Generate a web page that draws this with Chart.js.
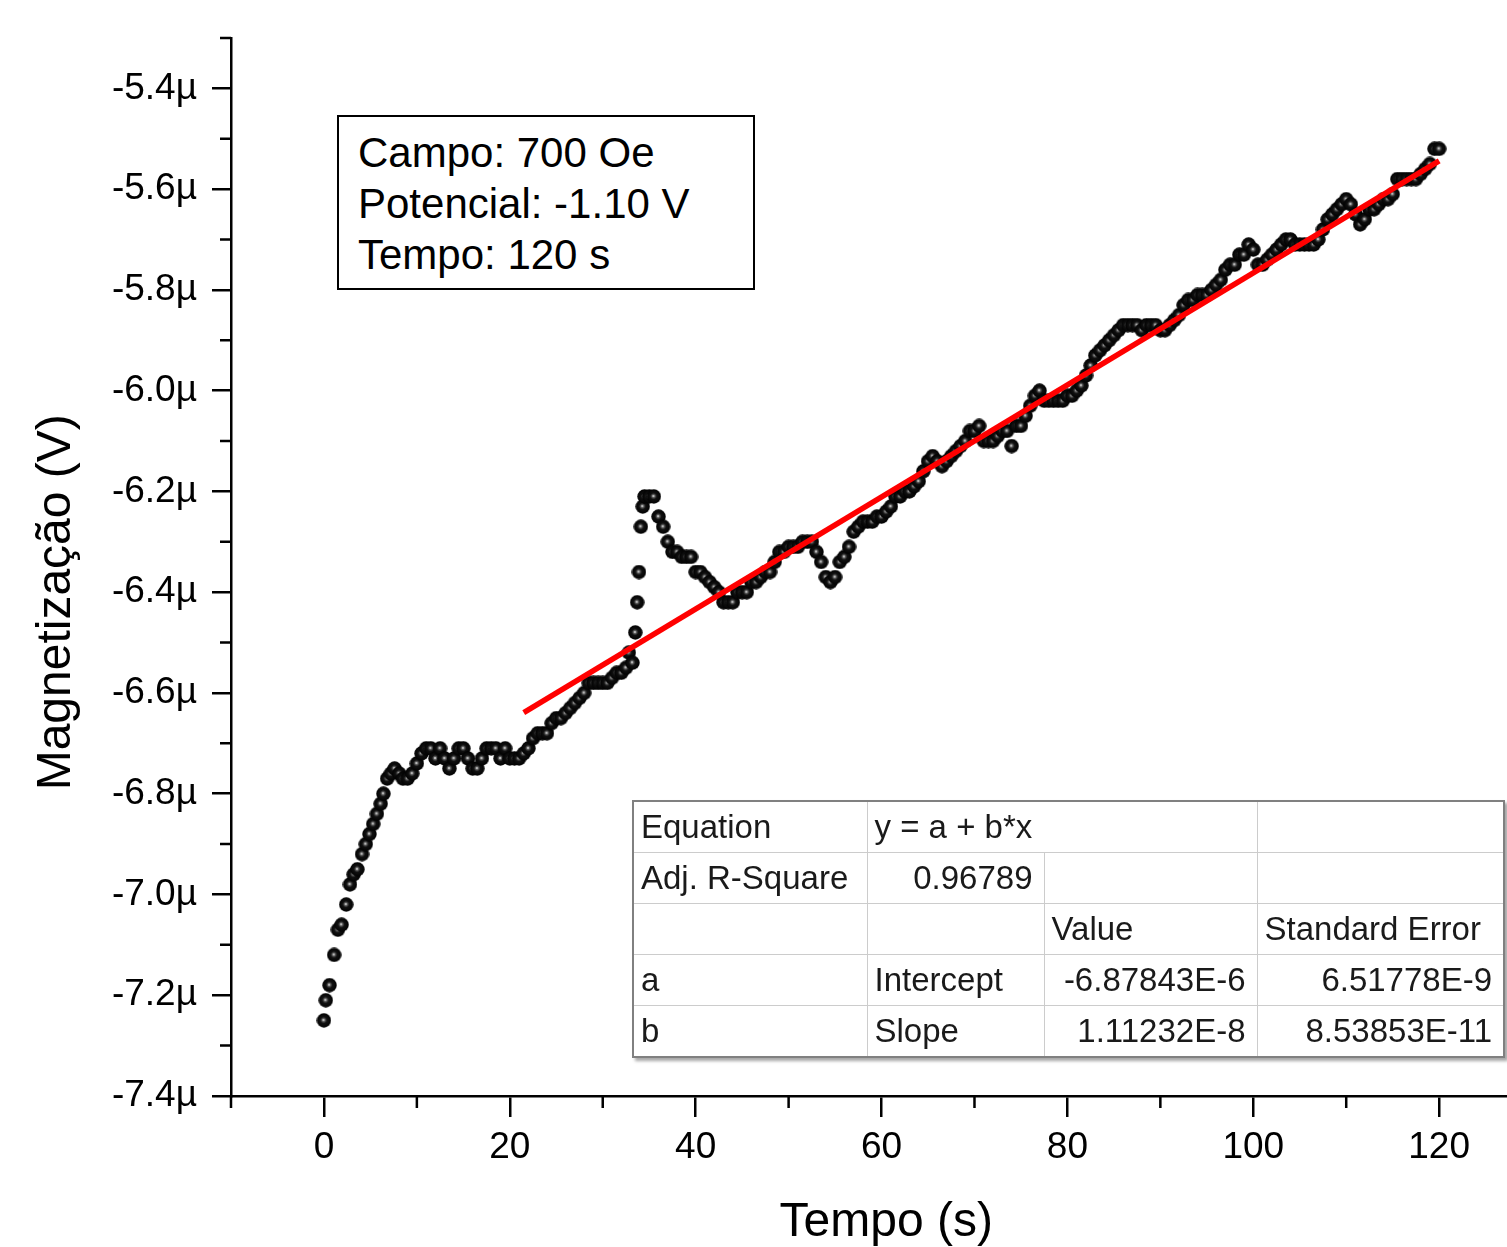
<!DOCTYPE html>
<html>
<head>
<meta charset="utf-8">
<script src="https://cdn.jsdelivr.net/npm/chart.js@4.4.1/dist/chart.umd.min.js"></script>
<style>
  body { margin: 0; background: #fff; }
  #wrap { position: relative; width: 1507px; height: 1247px; overflow: hidden; background: #fff; }
  #info {
    position: absolute; left: 337px; top: 115px; width: 395px; height: 161px;
    border: 2px solid #000; background: #fff; padding: 10px 0 0 19px;
    font: 42px/51px 'Liberation Sans', Arial, sans-serif; color: #000;
  }
  #fit {
    position: absolute; left: 632px; top: 800px; width: 871px;
    border-collapse: collapse; table-layout: fixed; background: #fff;
    font: 33px 'Liberation Sans', Arial, sans-serif; color: #1a1a1a;
    border: 2px solid #808080; box-shadow: 3px 3px 3px rgba(0,0,0,0.35);
  }
  #fit td { border: 1px solid #cccccc; height: 50px; padding: 0 7px; white-space: nowrap; overflow: hidden; }
  #fit td.r { text-align: right; padding-right: 11px; }
</style>
</head>
<body>
<div id="wrap">
  <canvas id="grafico" width="1507" height="1247"></canvas>
  <div id="info">Campo: 700 Oe<br>Potencial: -1.10 V<br>Tempo: 120 s</div>
  <table id="fit">
    <colgroup><col style="width:234px"><col style="width:177px"><col style="width:213px"><col style="width:247px"></colgroup>
    <tr><td>Equation</td><td colspan="2">y = a + b*x</td><td></td></tr>
    <tr><td>Adj. R-Square</td><td class="r">0.96789</td><td></td><td></td></tr>
    <tr><td></td><td></td><td>Value</td><td>Standard Error</td></tr>
    <tr><td>a</td><td>Intercept</td><td class="r">-6.87843E-6</td><td class="r">6.51778E-9</td></tr>
    <tr><td>b</td><td>Slope</td><td class="r">1.11232E-8</td><td class="r">8.53853E-11</td></tr>
  </table>
</div>
<script>
// tempo em s, magnetizacao em µV
const tempo = [
  0, 0.2, 0.6, 1.1, 1.5, 1.9, 2.4, 2.8, 3.2, 3.6, 4.1, 4.5, 4.9, 5.3, 5.7, 6.1, 6.4, 6.8, 7.2, 7.6, 8.1, 8.5, 9, 9.5,
  10, 10.5, 11, 11.5, 12, 12.5, 13, 13.5, 14, 14.5,
  15, 15.5, 16, 16.5, 17, 17.5, 18, 18.5, 19, 19.5,
  20, 20.5, 21, 21.5, 22, 22.5, 23, 23.5, 24, 24.5,
  25, 25.5, 26, 26.5, 27, 27.5, 28, 28.5, 29, 29.5,
  30, 30.5, 31, 31.5, 32, 32.5,
  32.8, 33.2, 33.5, 33.7, 33.9, 34.1, 34.3, 34.5,
  35, 35.5, 36, 36.5, 37, 37.5, 38, 38.5, 39, 39.5,
  40, 40.5, 41, 41.5, 42, 42.5, 43, 43.5, 44, 44.5,
  45, 45.5, 46, 46.5, 47, 47.5, 48, 48.5, 49, 49.5,
  50, 50.5, 51, 51.5, 52, 52.5, 53, 53.5, 54, 54.5,
  55, 55.5, 56, 56.5, 57, 57.5, 58, 58.5, 59, 59.5,
  60, 60.5, 61, 61.5, 62, 62.5, 63, 63.5, 64, 64.5,
  65, 65.5, 66, 66.5, 67, 67.5, 68, 68.5, 69, 69.5,
  70, 70.5, 71, 71.5, 72, 72.5, 73, 73.5, 74, 74.5,
  75, 75.5, 76, 76.5, 77, 77.5, 78, 78.5, 79, 79.5,
  80, 80.5, 81, 81.5, 82, 82.5, 83, 83.5, 84, 84.5,
  85, 85.5, 86, 86.5, 87, 87.5, 88, 88.5, 89, 89.5,
  90, 90.5, 91, 91.5, 92, 92.5, 93, 93.5, 94, 94.5,
  95, 95.5, 96, 96.5, 97, 97.5, 98, 98.5, 99, 99.5,
  100, 100.5, 101, 101.5, 102, 102.5, 103, 103.5, 104, 104.5,
  105, 105.5, 106, 106.5, 107, 107.5, 108, 108.5, 109, 109.5,
  110, 110.5, 111, 111.5, 112, 112.5, 113, 113.5, 114, 114.5,
  115, 115.5, 116, 116.5, 117, 117.5, 118, 118.5, 119, 119.5,
  120
];
const magnetizacao = [
  -7.25, -7.21, -7.18, -7.12, -7.07, -7.06, -7.02, -6.98, -6.96, -6.95, -6.92, -6.90, -6.88, -6.86, -6.84, -6.82, -6.80, -6.77, -6.76, -6.75, -6.76, -6.77, -6.77, -6.76,
  -6.74, -6.72, -6.71, -6.71, -6.73, -6.71, -6.73, -6.75, -6.73, -6.71,
  -6.71, -6.73, -6.75, -6.75, -6.73, -6.71, -6.71, -6.71, -6.73, -6.71,
  -6.73, -6.73, -6.73, -6.72, -6.71, -6.69, -6.68, -6.68, -6.68, -6.66,
  -6.65, -6.65, -6.64, -6.63, -6.62, -6.61, -6.60, -6.58, -6.58, -6.58,
  -6.58, -6.58, -6.57, -6.56, -6.56, -6.55,
  -6.52, -6.54, -6.48, -6.42, -6.36, -6.27, -6.23, -6.21,
  -6.21, -6.21, -6.25, -6.27, -6.30, -6.32, -6.32, -6.33, -6.33, -6.33,
  -6.36, -6.36, -6.37, -6.38, -6.39, -6.40, -6.42, -6.42, -6.42, -6.40,
  -6.40, -6.40, -6.38, -6.38, -6.37, -6.36, -6.36, -6.34, -6.32, -6.32,
  -6.31, -6.31, -6.31, -6.30, -6.30, -6.30, -6.32, -6.34, -6.37, -6.38,
  -6.37, -6.34, -6.33, -6.31, -6.28, -6.27, -6.26, -6.26, -6.26, -6.25,
  -6.25, -6.24, -6.23, -6.21, -6.21, -6.20, -6.20, -6.19, -6.18, -6.16,
  -6.14, -6.13, -6.14, -6.15, -6.14, -6.13, -6.12, -6.11, -6.10, -6.08,
  -6.08, -6.07, -6.10, -6.10, -6.10, -6.09, -6.08, -6.08, -6.11, -6.07,
  -6.07, -6.05, -6.03, -6.01, -6.00, -6.02, -6.02, -6.02, -6.02, -6.02,
  -6.01, -6.01, -6.00, -5.99, -5.97, -5.95, -5.93, -5.92, -5.91, -5.90,
  -5.89, -5.88, -5.87, -5.87, -5.87, -5.87, -5.88, -5.87, -5.87, -5.87,
  -5.88, -5.88, -5.87, -5.86, -5.85, -5.83, -5.82, -5.82, -5.81, -5.81,
  -5.81, -5.80, -5.79, -5.78, -5.76, -5.75, -5.75, -5.73, -5.73, -5.71,
  -5.72, -5.75, -5.75, -5.74, -5.73, -5.72, -5.71, -5.70, -5.70, -5.71,
  -5.71, -5.71, -5.71, -5.71, -5.70, -5.68, -5.66, -5.65, -5.64, -5.63,
  -5.62, -5.63, -5.65, -5.67, -5.66, -5.64, -5.64, -5.63, -5.62, -5.62,
  -5.61, -5.58, -5.58, -5.58, -5.58, -5.58, -5.57, -5.56, -5.55, -5.52,
  -5.52
];
// ajuste linear (pontos extremos da reta)
const ajusteTempo = [21.5, 120];
const ajusteMag = [-6.639, -5.544];

const xTicks = [0, 20, 40, 60, 80, 100, 120];
const xMinor = [-10, 10, 30, 50, 70, 90, 110];
const yTicks = [-7.4, -7.2, -7.0, -6.8, -6.6, -6.4, -6.2, -6.0, -5.8, -5.6, -5.4];
const yMinor = [-7.3, -7.1, -6.9, -6.7, -6.5, -6.3, -6.1, -5.9, -5.7, -5.5, -5.3];

// marcador "esfera" preta
const esfera = document.createElement('canvas');
esfera.width = 15; esfera.height = 15;
(function () {
  const g = esfera.getContext('2d');
  const grad = g.createRadialGradient(7, 7, 0.3, 7.5, 7.5, 7.5);
  grad.addColorStop(0, '#e0e0e0');
  grad.addColorStop(0.18, '#5a5a5a');
  grad.addColorStop(0.4, '#111');
  grad.addColorStop(1, '#000');
  g.fillStyle = grad;
  g.beginPath();
  g.arc(7.5, 7.5, 7.2, 0, Math.PI * 2);
  g.fill();
})();

const pontos = tempo.map((t, i) => ({ x: t, y: magnetizacao[i] }));
const reta = ajusteTempo.map((t, i) => ({ x: t, y: ajusteMag[i] }));

const fonte = "'Liberation Sans', Arial, sans-serif";

// ticks menores (mais curtos) e títulos dos eixos
const eixosExtra = {
  id: 'eixosExtra',
  afterDraw(chart) {
    const ctx = chart.ctx;
    const xs = chart.scales.x, ys = chart.scales.y;
    const area = chart.chartArea;
    ctx.save();
    ctx.strokeStyle = '#000';
    ctx.lineWidth = 2.5;
    ctx.beginPath();
    yMinor.forEach(v => {
      const p = ys.getPixelForValue(v);
      ctx.moveTo(area.left - 11, p);
      ctx.lineTo(area.left, p);
    });
    xMinor.forEach(v => {
      const p = xs.getPixelForValue(v);
      ctx.moveTo(p, area.bottom);
      ctx.lineTo(p, area.bottom + 12);
    });
    ctx.stroke();

    ctx.fillStyle = '#000';
    ctx.font = '48px ' + fonte;
    ctx.textAlign = 'center';
    ctx.textBaseline = 'middle';
    ctx.fillText('Tempo (s)', xs.getPixelForValue(60.5), 1223);
    ctx.translate(57, ys.getPixelForValue(-6.42));
    ctx.rotate(-Math.PI / 2);
    ctx.fillText('Magnetização (V)', 0, 0);
    ctx.restore();
  }
};

new Chart(document.getElementById('grafico'), {
  type: 'scatter',
  data: {
    datasets: [
      {
        type: 'line',
        label: 'Ajuste',
        data: reta,
        borderColor: '#ff0000',
        borderWidth: 5.5,
        pointRadius: 0,
        fill: false,
        order: 0
      },
      {
        label: 'Magnetização',
        data: pontos,
        pointStyle: esfera,
        pointRadius: 7,
        showLine: false,
        order: 1
      }
    ]
  },
  options: {
    responsive: false,
    animation: false,
    devicePixelRatio: 1,
    layout: { autoPadding: false, padding: { top: 38, right: 0, left: 0, bottom: 0 } },
    plugins: {
      legend: { display: false },
      tooltip: { enabled: false }
    },
    scales: {
      x: {
        type: 'linear',
        min: -10,
        max: 127.3,
        afterFit(scale) { scale.height = 151; },
        afterBuildTicks(scale) { scale.ticks = xTicks.map(v => ({ value: v })); },
        grid: { display: true, drawOnChartArea: false, drawTicks: true, tickLength: 21, color: '#000', lineWidth: 2.5 },
        border: { display: true, color: '#000', width: 2.5 },
        ticks: {
          color: '#000',
          font: { family: fonte, size: 37 },
          padding: 9,
          maxRotation: 0,
          autoSkip: false
        }
      },
      y: {
        type: 'linear',
        min: -7.4,
        max: -5.3,
        afterFit(scale) { scale.width = 231; },
        afterBuildTicks(scale) { scale.ticks = yTicks.map(v => ({ value: v })); },
        grid: { display: true, drawOnChartArea: false, drawTicks: true, tickLength: 19, color: '#000', lineWidth: 2.5 },
        border: { display: true, color: '#000', width: 2.5 },
        ticks: {
          color: '#000',
          font: { family: fonte, size: 37 },
          padding: 15,
          autoSkip: false,
          callback: v => v.toFixed(1) + 'µ'
        }
      }
    }
  },
  plugins: [eixosExtra]
});
</script>
</body>
</html>
